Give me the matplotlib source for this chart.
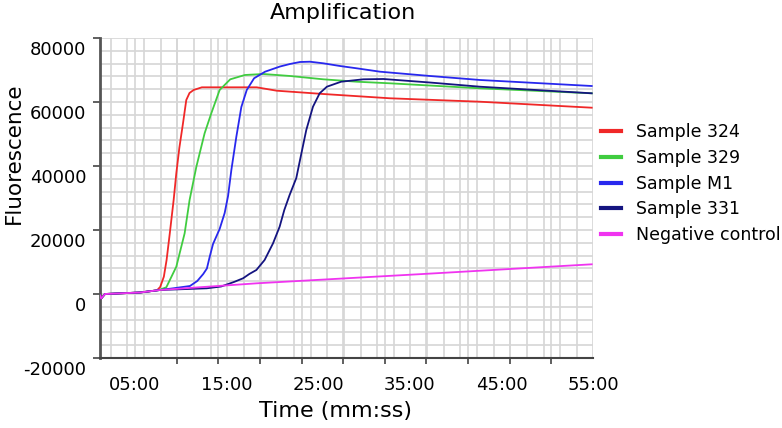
#!/usr/bin/env python3

"""
Amplification curves (fluorescence vs time) for four samples and a negative control.
"""

import matplotlib
matplotlib.use("Agg")
import matplotlib.pyplot as plt
from matplotlib.transforms import ScaledTranslation

plt.rcParams['font.family'] = ['DejaVu Sans']
plt.rcParams['axes.unicode_minus'] = False

# Time in minutes, fluorescence in arbitrary units
t_324 = [1.18, 1.3, 1.72, 5.55, 7.4, 7.75, 8.15, 8.45, 8.8, 9.03, 9.22, 9.51, 9.84, 10.24,
         10.6, 10.95, 11.4, 12.3, 15.4, 18.29, 20.47, 25.56, 32.84, 42.66, 54.86]
f_324 = [-400, -1400, 0, 470, 1150, 2190, 5410, 10630, 18970, 24690, 29380, 37720, 45630, 53340,
         60630, 62810, 63750, 64590, 64590, 64590, 63530, 62500, 61160, 60090, 58220]

t_329 = [1.18, 1.3, 1.72, 5.55, 7.6, 7.95, 8.42, 9.51, 10.42, 10.96, 11.70, 12.60, 13.33, 14.24,
         15.4, 17.0, 19.01, 21.92, 25.56, 29.20, 32.84, 42.66, 54.86]
f_329 = [-400, -1400, 0, 470, 1200, 1600, 2090, 8530, 18970, 29380, 39780, 50220, 56470, 63750,
         67090, 68440, 68750, 68130, 67090, 66340, 65840, 64280, 62720]

t_m1 = [1.18, 1.3, 1.72, 5.55, 7.73, 9.18, 11.00, 11.8, 12.45, 12.85, 13.15, 13.52, 14.24, 14.79,
        15.16, 15.52, 16.06, 16.61, 17.2, 18.0, 19.2, 20.83, 21.92, 23.01, 24.10, 25.56, 27.38,
        29.20, 31.75, 37.20, 42.66, 54.86]
f_m1 = [-400, -1400, 0, 470, 1250, 1780, 2500, 4060, 6250, 7970, 11560, 15630, 20310, 25310,
        30630, 38750, 49060, 58440, 63750, 67410, 69470, 71090, 71880, 72500, 72590, 72090, 71250,
        70530, 69470, 68130, 66880, 65000]

t_331 = [1.18, 1.3, 1.72, 5.55, 7.73, 12.83, 14.4, 15.8, 16.8, 17.48, 18.25, 19.15, 20.07,
         20.79, 21.3, 21.88, 22.61, 22.97, 23.7, 24.43, 25.16, 25.95, 27.5, 29.92, 32.11, 37.20,
         42.66, 54.86]
f_331 = [-400, -1400, 0, 470, 1250, 1780, 2340, 3750, 4910, 6250, 7500, 10630, 15840,
         21030, 26250, 30940, 36250, 41250, 51250, 58530, 62720, 64780, 66340, 67090, 67190, 66090,
         64780, 62720]

t_neg = [1.18, 1.3, 1.72, 5.55, 7.73, 18.29, 36.44, 54.86]
f_neg = [-400, -1400, 0, 470, 1250, 3340, 6250, 9280]

series = [
    ('Sample 324', t_324, f_324, '#f02828'),
    ('Sample 329', t_329, f_329, '#40cc40'),
    ('Sample M1', t_m1, f_m1, '#2828ee'),
    ('Sample 331', t_331, f_331, '#141480'),
    ('Negative control', t_neg, f_neg, '#f034f0'),
]

x_labels = ['05:00', '15:00', '25:00', '35:00', '45:00', '55:00']
x_label_pos = [5, 15, 25, 35, 45, 55]

fig = plt.figure(figsize=(7.82, 4.28), dpi=100)
ax = fig.add_axes([100 / 782, 1 - 358 / 428, 493 / 782, 320 / 428])

# Light grid: regular lines plus lines at the tick marks
tick_marks = [5 + k * 50 / 11 for k in range(12)]
grid_x = [2.35 + k * 1.818 for k in range(30)] + tick_marks
for gx in grid_x:
    ax.axvline(gx, color='#d6d6d6', lw=1.2, zorder=0)
for gy in range(-20000, 80001, 4000):
    ax.axhline(gy, color='#d6d6d6', lw=1.2, zorder=0)

handles = []
for name, t, f, color in series:
    ax.plot(t, f, color=color, lw=1.3, zorder=3)
    handles.append(plt.Line2D([], [], color=color, lw=3))

ax.set_xlim(1.18, 55.0)
ax.set_ylim(-20000, 80000)

ax.set_xticks(x_label_pos)
ax.set_xticklabels(x_labels)
ax.set_xticks(tick_marks, minor=True)
ax.tick_params(axis='x', which='major', length=0, pad=13, labelsize=13)
ax.tick_params(axis='x', which='minor', length=4, width=1.2, color='#444444', direction='out')

ax.set_yticks(range(-20000, 80001, 20000))
ax.tick_params(axis='y', length=5, width=1.2, color='#444444', pad=5, labelsize=13)

# Labels sit a bit below their ticks in the reference
offset = ScaledTranslation(0, -10 / 100, fig.dpi_scale_trans)
for lab in ax.get_yticklabels():
    lab.set_transform(lab.get_transform() + offset)

for side in ['top', 'right']:
    ax.spines[side].set_visible(False)
ax.spines['left'].set_color('#555555')
ax.spines['left'].set_linewidth(2)
ax.spines['bottom'].set_color('#444444')
ax.spines['bottom'].set_linewidth(1.5)

ax.set_xlabel('Time (mm:ss)', fontsize=16)
ax.xaxis.set_label_coords(0.477, -0.135)
ax.set_ylabel('Fluorescence', fontsize=15.5)
ax.yaxis.set_label_coords(-0.155, 0.64)

fig.text(343 / 782, 1 - 19 / 428, 'Amplification', ha='center', va='baseline', fontsize=16)

fig.legend(handles, [s[0] for s in series], loc='upper left',
           bbox_to_anchor=(601 / 782, 1 - 123 / 428), frameon=False,
           borderpad=0, borderaxespad=0, handlelength=1.15, handletextpad=0.85,
           labelspacing=0.45, fontsize=12.5)

fig.savefig('out.png', dpi=100)
